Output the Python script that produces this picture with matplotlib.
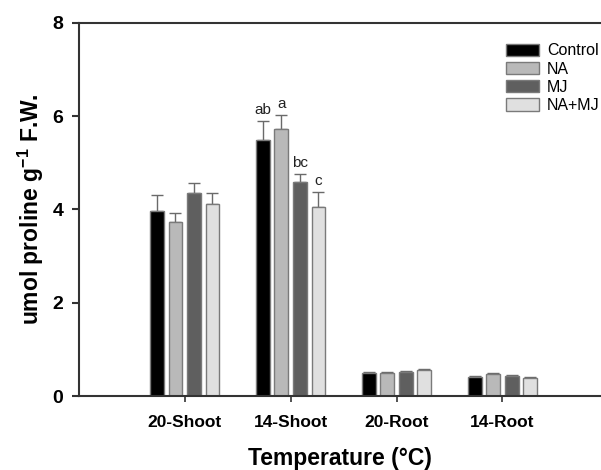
import numpy as np
import matplotlib
matplotlib.use("Agg")
import matplotlib.pyplot as plt

plt.rcParams['font.family'] = ['Liberation Sans', 'DejaVu Sans']
plt.rcParams['mathtext.fontset'] = 'custom'
plt.rcParams['mathtext.rm'] = 'Liberation Sans'
plt.rcParams['mathtext.bf'] = 'Liberation Sans:bold'

# data
groups = ['20-Shoot', '14-Shoot', '20-Root', '14-Root']
treatments = ['Control', 'NA', 'MJ', 'NA+MJ']
control = [3.97, 5.49, 0.49, 0.41]
na = [3.73, 5.73, 0.49, 0.47]
mj = [4.35, 4.59, 0.51, 0.42]
na_mj = [4.12, 4.05, 0.56, 0.39]
control_err = [0.34, 0.41, 0.02, 0.01]
na_err = [0.20, 0.30, 0.02, 0.02]
mj_err = [0.22, 0.17, 0.02, 0.02]
na_mj_err = [0.23, 0.33, 0.02, 0.01]
# significance letters on 14-Shoot
letters = ['ab', 'a', 'bc', 'c']

colors = ['#000000', '#b9b9b9', '#5f5f5f', '#e0e0e0']
series = [control, na, mj, na_mj]
errs = [control_err, na_err, mj_err, na_mj_err]

fig = plt.figure(figsize=(6.01, 4.70), dpi=100)
ax = fig.add_axes([0.131, 0.1574, 0.869, 0.794])

x = np.arange(1, len(groups) + 1)
step = 0.175
width = 0.13
for i in range(4):
    pos = x + (i - 1.5) * step
    ax.bar(pos, series[i], width, color=colors[i], edgecolor='#7a7a7a',
           linewidth=1.0, label=treatments[i], zorder=2)
    ax.errorbar(pos, series[i], yerr=[np.zeros(4), errs[i]], fmt='none',
                ecolor='#6a6a6a', elinewidth=1.0, capsize=4, capthick=1.0, zorder=1)
    # letters for 14-Shoot group
    ax.text(pos[1], series[i][1] + errs[i][1] + 0.08, letters[i],
            ha='center', va='bottom', fontsize=11, color='#222222')

ax.set_xlim(0, 4.93)
ax.set_ylim(0, 8)
ax.set_yticks([0, 2, 4, 6, 8])
ax.set_xticks(x)
ax.set_xticklabels(groups, fontsize=12.5, fontweight='bold')
for lab in ax.get_yticklabels():
    lab.set_fontweight('bold')
    lab.set_fontsize(14)
ax.tick_params(axis='y', direction='out', length=5, width=1.5, color='#333333', pad=6)
ax.tick_params(axis='x', direction='out', length=4, width=1.2, color='#333333', pad=10)

ax.spines['right'].set_visible(False)
for s in ['left', 'bottom', 'top']:
    ax.spines[s].set_linewidth(1.5)
    ax.spines[s].set_color('#333333')

ax.set_ylabel('umol proline g$^{\\mathbf{-1}}$ F.W.', fontsize=16.5, fontweight='bold', labelpad=5)
ax.set_xlabel('Temperature (\u00b0C)', fontsize=16.5, fontweight='bold', labelpad=12)

leg = ax.legend(loc='upper left', bbox_to_anchor=(0.805, 0.962), frameon=False,
                fontsize=11.5, handlelength=2.1, handleheight=0.8,
                labelspacing=0.2, handletextpad=0.5, borderaxespad=0)

fig.savefig('out.png', dpi=100)
